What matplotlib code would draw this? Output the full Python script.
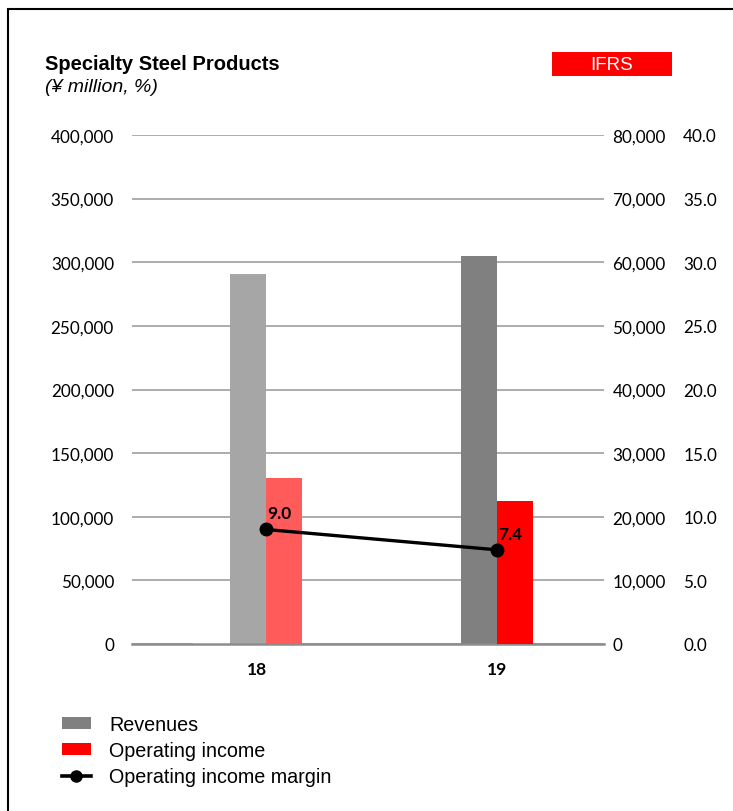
import numpy as np
import matplotlib.pyplot as plt
from matplotlib.patches import Rectangle, Patch
from matplotlib.lines import Line2D
from matplotlib.ticker import FuncFormatter

years = ["18", "19"]
revenues = [291000, 305000]
op_income = [26100, 22500]
margin = [9.0, 7.4]
other = [0, np.nan]   # zero-height series, only visible as a sliver at the baseline

rev_colors = ["#A6A6A6", "#808080"]
inc_colors = ["#FF5B5B", "#FF0000"]

num_font = "Lato"
txt_font = "Liberation Sans"

fig = plt.figure(figsize=(7.33, 8.12), dpi=100)
W, H = 733, 812

# outer frame
fig.patches.append(Rectangle((8 / W, -0.1), 1.2, 1 - 10 / H + 0.1, transform=fig.transFigure,
                             fill=False, edgecolor="black", linewidth=1.5))

ax = fig.add_axes([132 / W, 1 - 645 / H, (604 - 132) / W, (645 - 136) / H])
ax2 = ax.twinx()
ax3 = ax.twinx()

x = np.arange(len(years))
w = 0.157

ax.bar(x - w / 2, revenues, width=w, color=rev_colors, zorder=2)
ax.bar(x - 1.5 * w, other, width=w, color="none", edgecolor="#92D050", linewidth=1.2, zorder=3)
ax2.bar(x + w / 2, op_income, width=w, color=inc_colors, zorder=2)
ax3.plot(x, margin, color="black", linewidth=2.4, marker="o", markersize=9, zorder=5)
for xi, m in zip(x, margin):
    ax3.annotate(f"{m:.1f}", (xi, m), xytext=(1, 6), textcoords="offset points",
                 ha="left", va="bottom", fontsize=12.5, fontweight="bold", family=num_font)

ax.set_ylim(0, 400000)
ax2.set_ylim(0, 80000)
ax3.set_ylim(0, 40)
ax.set_xlim(-0.58, 1.463)

ax.set_yticks(np.arange(0, 400001, 50000))
ax2.set_yticks(np.arange(0, 80001, 10000))
ax3.set_yticks(np.arange(0, 40.1, 5))
comma = FuncFormatter(lambda v, p: f"{v:,.0f}")
ax.yaxis.set_major_formatter(comma)
ax2.yaxis.set_major_formatter(comma)
ax3.yaxis.set_major_formatter(FuncFormatter(lambda v, p: f"{v:.1f}"))

ax.set_xticks(x + np.array([-0.04, 0.0]))
ax.set_xticklabels(years, fontweight="bold", family=num_font, fontsize=12.5)

ax.grid(axis="y", color="#A6A6A6", linewidth=1.3)
ax.set_axisbelow(True)

for a in (ax, ax2, ax3):
    for s in a.spines.values():
        s.set_visible(False)
    a.tick_params(length=0)
    for lab in a.get_yticklabels():
        lab.set_family(num_font)
        lab.set_fontsize(12.3)
ax.spines["bottom"].set_visible(True)
ax.spines["bottom"].set_color("#8C8C8C")
ax.spines["bottom"].set_linewidth(1.8)
ax.tick_params(axis="y", pad=13)
ax.tick_params(axis="x", pad=12)
ax2.tick_params(axis="y", pad=6)
ax3.tick_params(axis="y", pad=57)

fig.text(45 / W, 1 - 65 / H, "Specialty Steel Products", fontsize=14.5, fontweight="bold",
         family=txt_font, va="center")
fig.text(45 / W, 1 - 88 / H, "(¥ million, %)", fontsize=14, style="italic",
         family=txt_font, va="center")

fig.patches.append(Rectangle((552 / W, 1 - 77 / H), 120 / W, 24 / H, transform=fig.transFigure,
                             facecolor="#FF0000", edgecolor="none"))
fig.text(612 / W, 1 - 65 / H, "IFRS", fontsize=13.5, color="white", family=txt_font,
         ha="center", va="center")

handles = [Patch(facecolor="#808080"), Patch(facecolor="#FF0000"),
           Line2D([], [], color="black", linewidth=2.6, marker="o", markersize=8)]
labels = ["Revenues", "Operating income", "Operating income margin"]
fig.legend(handles, labels, loc="upper left", bbox_to_anchor=(62 / W, 1 - 716 / H),
           frameon=False, prop={"family": txt_font, "size": 14.2},
           handlelength=1.45, handletextpad=0.95, labelspacing=0.36, handleheight=0.5,
           borderaxespad=0, borderpad=0)

fig.savefig("out.png", dpi=100)
